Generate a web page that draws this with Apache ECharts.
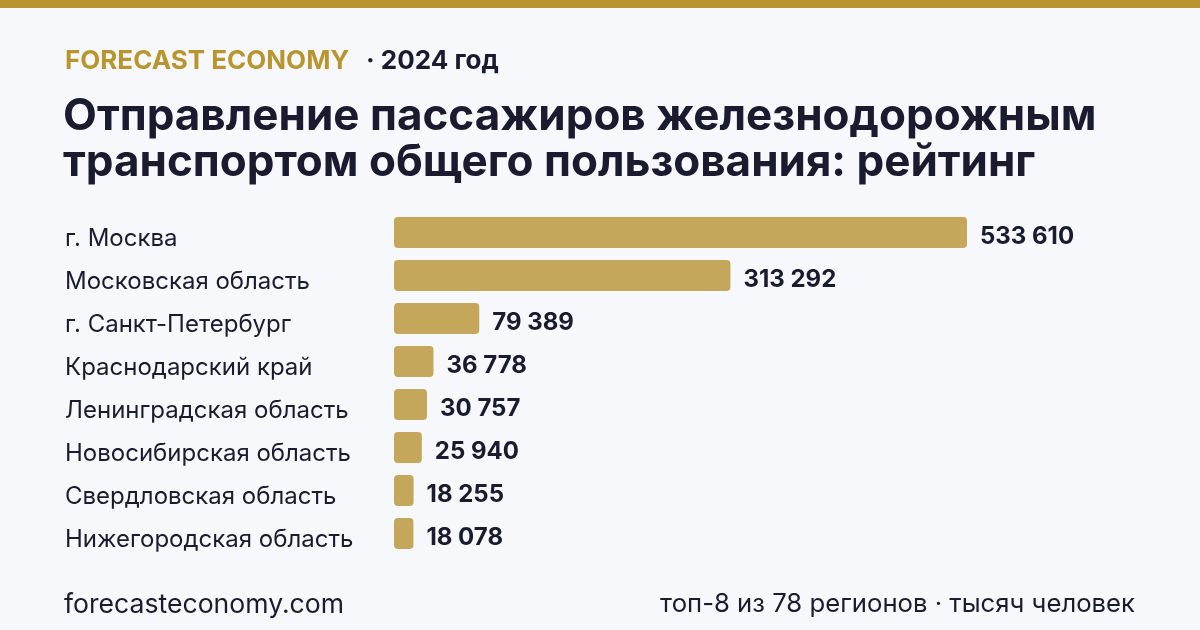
<!DOCTYPE html>
<html>
<head>
<meta charset="utf-8">
<script src="https://cdn.jsdelivr.net/npm/echarts@6/dist/echarts.min.js"></script>
<style>
  html, body { margin: 0; padding: 0; background: #f7f8fc; }
  #main { width: 1200px; height: 630px; }
</style>
</head>
<body>
<div id="main"></div>
<script>
// регионы и значения (тыс. человек), 2024 год
var regions = ['г. Москва', 'Московская область', 'г. Санкт-Петербург', 'Краснодарский край',
  'Ленинградская область', 'Новосибирская область', 'Свердловская область', 'Нижегородская область'];
var passengers = [533610, 313292, 79389, 36778, 30757, 25940, 18255, 18078];

var FONT = 'Inter, "Noto Sans", sans-serif';
var DARK = '#1b1b2f';
var GOLD = '#b8952e';

var myChart = echarts.init(document.getElementById('main'));

function fmt(v) {
  return String(v).replace(/\B(?=(\d{3})+(?!\d))/g, ' ');
}

var option = {
  backgroundColor: '#f7f8fc',
  textStyle: { fontFamily: FONT },
  graphic: [{
    type: 'rect',
    shape: { x: 0, y: 0, width: 1200, height: 8 },
    style: { fill: GOLD }
  }, {
    type: 'text', left: 65, top: 48,
    style: { text: 'FORECAST ECONOMY', fill: GOLD, font: 'bold 26px ' + FONT }
  }, {
    type: 'text', left: 366, top: 48,
    style: { text: '· 2024 год', fill: DARK, font: 'bold 26px ' + FONT }
  }, {
    type: 'text', left: 63, top: 94,
    style: {
      text: 'Отправление пассажиров железнодорожным\nтранспортом общего пользования: рейтинг',
      fill: DARK, font: 'bold 44px ' + FONT, lineHeight: 46
    }
  }, {
    type: 'text', left: 64, top: 591,
    style: { text: 'forecasteconomy.com', fill: DARK, font: '26.6px ' + FONT }
  }, {
    type: 'text', right: 65, top: 591,
    style: { text: 'топ-8 из 78 регионов · тысяч человек', fill: DARK, font: '25.7px ' + FONT }
  }],
  grid: { left: 394, width: 573, top: 211, height: 344 },
  xAxis: {
    type: 'value', min: 0, max: 533610,
    show: false
  },
  yAxis: {
    type: 'category', data: regions, inverse: true,
    axisLine: { show: false }, axisTick: { show: false },
    axisLabel: {
      align: 'left', margin: 329,
      formatter: function (v) { return '{c|' + v + '}'; },
      rich: {
        c: { color: DARK, fontSize: 24, fontFamily: FONT, padding: [12, 0, 0, 0] }
      }
    }
  },
  series: [{
    type: 'bar',
    data: passengers,
    barWidth: 31,
    itemStyle: { color: '#c4a75a', borderRadius: 4 },
    label: {
      show: true, position: 'right', distance: 13, offset: [0, 4],
      color: DARK, fontSize: 24, fontWeight: 'bold', fontFamily: FONT,
      formatter: function (p) { return fmt(p.value); }
    },
    silent: true
  }],
  animation: false
};
myChart.setOption(option);
</script>
</body>
</html>
